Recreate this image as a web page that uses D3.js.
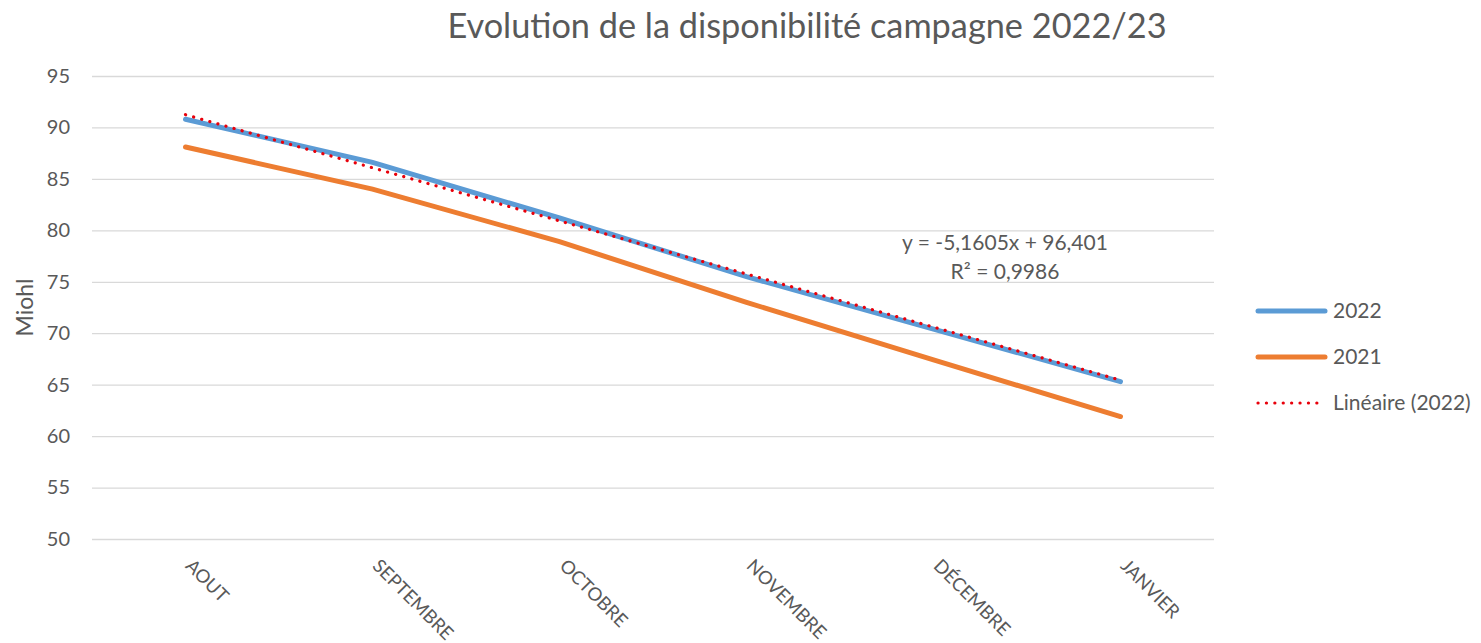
<!DOCTYPE html>
<html>
<head>
<meta charset="utf-8">
<script src="https://cdn.jsdelivr.net/npm/d3@7.9.0/dist/d3.min.js"></script>
<style>
  body { margin: 0; background: #fff; }
  svg { font-family: Lato, "Open Sans", sans-serif; }
</style>
</head>
<body>
<svg id="chart" width="1481" height="643"></svg>
<script>
// Data
const months = ['AOUT', 'SEPTEMBRE', 'OCTOBRE', 'NOVEMBRE', 'DÉCEMBRE', 'JANVIER'];
const values2022 = [90.8, 86.6, 81.2, 75.5, 70.4, 65.3];
const values2021 = [88.1, 84.0, 78.9, 73.0, 67.4, 61.9];
const yTicks = [50, 55, 60, 65, 70, 75, 80, 85, 90, 95];
const trendSlope = -5.1605;
const trendIntercept = 96.401;
const trendLabel = ['y = -5,1605x + 96,401', 'R² = 0,9986'];

const svg = d3.select('#chart');
const plotLeft = 92, plotRight = 1214, plotTop = 76, plotBottom = 539;
const textColor = '#595959';

let x = d3.scaleBand().domain(months).range([plotLeft, plotRight]);
let y = d3.scaleLinear().domain([50, 95]).range([plotBottom, plotTop]);
const cx = m => x(m) + x.bandwidth() / 2;

// Title
svg.append('text')
    .attr('x', 807).attr('y', 38)
    .attr('text-anchor', 'middle')
    .attr('font-size', 34.3)
    .attr('fill', textColor)
    .text('Evolution de la disponibilité campagne 2022/23');

// Gridlines + y labels
svg.append('g')
    .attr('transform', `translate(${plotLeft},0)`)
    .call(d3.axisLeft(y).tickValues(yTicks).tickSize(-(plotRight - plotLeft)).tickPadding(22))
    .call(g => g.select('.domain').remove())
    .call(g => g.selectAll('line').attr('stroke', '#d9d9d9').attr('stroke-width', 1.3))
    .call(g => g.selectAll('text').attr('font-size', 20).attr('fill', textColor)
        .attr('font-family', 'Lato, "Open Sans", sans-serif'));

// y axis title
svg.append('text')
    .attr('transform', `translate(33,${(plotTop + plotBottom) / 2}) rotate(-90)`)
    .attr('text-anchor', 'middle')
    .attr('font-size', 23)
    .attr('fill', textColor)
    .text('Miohl');

// x labels, rotated 45deg
svg.append('g').selectAll('text')
    .data(months)
    .join('text')
    .attr('transform', d => `translate(${cx(d) - 1},${plotBottom + 28}) rotate(45)`)
    .attr('font-size', 18.5)
    .attr('fill', textColor)
    .text(d => d);

// lines
let line = d3.line()
    .x((d, i) => cx(months[i]))
    .y(d => y(d));

svg.append('path')
    .attr('d', line(values2021))
    .attr('fill', 'none')
    .attr('stroke', '#ed7d31')
    .attr('stroke-width', 5)
    .attr('stroke-linecap', 'round');

svg.append('path')
    .attr('d', line(values2022))
    .attr('fill', 'none')
    .attr('stroke', '#5b9bd5')
    .attr('stroke-width', 5)
    .attr('stroke-linecap', 'round');

// trend line (linear fit of 2022)
const trendVals = months.map((m, i) => trendSlope * (i + 1) + trendIntercept);
svg.append('path')
    .attr('d', line(trendVals))
    .attr('fill', 'none')
    .attr('stroke', '#e8000b')
    .attr('stroke-width', 3.2)
    .attr('stroke-linecap', 'round')
    .attr('stroke-dasharray', '0.1 8.3');

// trend equation
svg.append('g').selectAll('text')
    .data(trendLabel)
    .join('text')
    .attr('x', 1005)
    .attr('y', (d, i) => 250 + i * 29)
    .attr('text-anchor', 'middle')
    .attr('font-size', 21)
    .attr('fill', textColor)
    .text(d => d);

// legend
const legendItems = [
    { label: '2022', color: '#5b9bd5', dash: null, width: 5 },
    { label: '2021', color: '#ed7d31', dash: null, width: 5 },
    { label: 'Linéaire (2022)', color: '#e8000b', dash: '0.1 8.3', width: 3.2 }
];
let legend = svg.append('g');
legendItems.forEach((d, i) => {
    const ly = 311 + i * 46;
    legend.append('line')
        .attr('x1', 1258).attr('x2', 1325)
        .attr('y1', ly).attr('y2', ly)
        .attr('stroke', d.color)
        .attr('stroke-width', d.width)
        .attr('stroke-linecap', 'round')
        .attr('stroke-dasharray', d.dash);
    legend.append('text')
        .attr('x', 1333).attr('y', ly + 7)
        .attr('font-size', 21)
        .attr('fill', textColor)
        .text(d.label);
});
</script>
</body>
</html>
